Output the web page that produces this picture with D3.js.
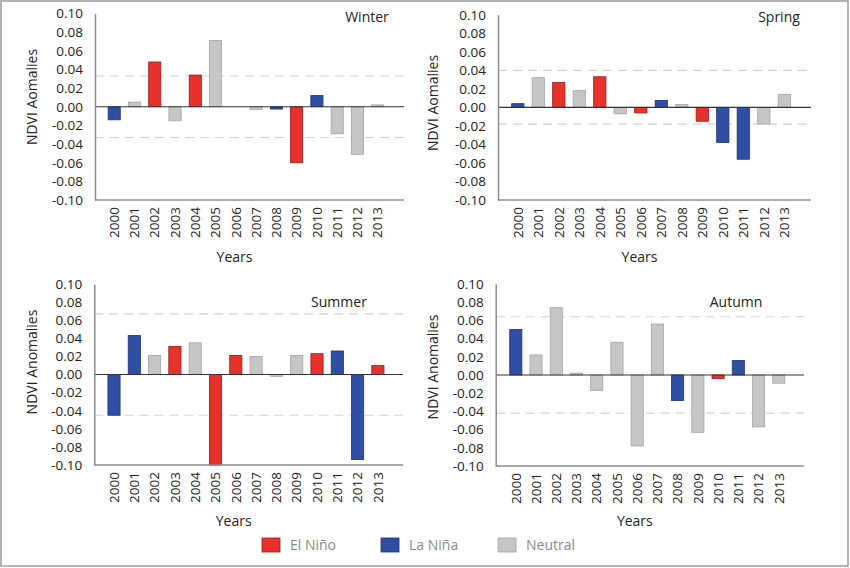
<!DOCTYPE html>
<html lang="en">
<head>
<meta charset="UTF-8">
<title>NDVI anomalies</title>
<script src="https://cdn.jsdelivr.net/npm/d3@7"></script>
<style>
  body { margin: 0; background: #fff; }
  text { font-family: "Open Sans", "Noto Sans", sans-serif; }
</style>
</head>
<body>
<script>
// data
var years = ["2000","2001","2002","2003","2004","2005","2006","2007","2008","2009","2010","2011","2012","2013"];
var winter = [-0.014, 0.005, 0.048, -0.015, 0.034, 0.071, 0.000, -0.003, -0.0025, -0.060, 0.012, -0.029, -0.051, 0.002];
var spring = [0.004, 0.032, 0.027, 0.018, 0.033, -0.007, -0.006, 0.0075, 0.003, -0.015, -0.038, -0.056, -0.018, 0.014];
var summer = [-0.045, 0.043, 0.021, 0.031, 0.035, -0.100, 0.021, 0.020, -0.002, 0.021, 0.023, 0.026, -0.094, 0.010];
var autumn = [0.050, 0.022, 0.074, 0.002, -0.017, 0.036, -0.078, 0.056, -0.028, -0.063, -0.004, 0.016, -0.057, -0.009];
// E = El Nino, L = La Nina, N = Neutral
var winterPhase = ["L","N","E","N","E","N","N","N","L","E","L","N","N","N"];
var springPhase = ["L","N","E","N","E","N","E","L","N","E","L","L","N","N"];
var summerPhase = ["L","L","N","E","N","E","E","N","N","N","E","L","L","E"];
var autumnPhase = ["L","N","N","N","N","N","N","N","L","N","E","L","N","N"];
// dashed reference lines
var winterRef = [0.033, -0.033];
var springRef = [0.040, -0.018];
var summerRef = [0.067, -0.045];
var autumnRef = [0.064, -0.042];
var yTicks = [0.10, 0.08, 0.06, 0.04, 0.02, 0.00, -0.02, -0.04, -0.06, -0.08, -0.10];

var legendNames = ["El Niño", "La Niña", "Neutral"];
var fill = {E: "#e8312b", L: "#2f4ea4", N: "#c6c6c6"};
var stroke = {E: "#8e1f1c", L: "#1f3478", N: "#a3a3a3"};

var W = 850, H = 568;
var svg = d3.select("body").append("svg").attr("width", W).attr("height", H);

svg.append("rect").attr("x", 1).attr("y", 1).attr("width", 847).attr("height", 565)
   .attr("fill", "none").attr("stroke", "#9a9a9a").attr("stroke-width", 1.5);

var fmt = function(d){ return d3.format(".2f")(d).replace("\u2212", "-"); };

var panels = [
  {title: "Winter", vals: winter, phase: winterPhase, ref: winterRef, ylab: "NDVI Aomalies",
   ax0: 95, ax1: 404, c0: 114.2, step: 20.27, yb: 200, yt: 13.5, tx: 367, ty: 22, lx: 32, ly: 97, yearsY: 262},
  {title: "Spring", vals: spring, phase: springPhase, ref: springRef, ylab: "NDVI Aomalies",
   ax0: 498, ax1: 811, c0: 517.8, step: 20.5, yb: 200, yt: 14.7, tx: 779, ty: 22, lx: 433, ly: 103, yearsY: 262},
  {title: "Summer", vals: summer, phase: summerPhase, ref: summerRef, ylab: "NDVI Anomalies",
   ax0: 94.3, ax1: 403, c0: 114, step: 20.3, yb: 465, yt: 284, tx: 339, ty: 307, lx: 32, ly: 362, yearsY: 526},
  {title: "Autumn", vals: autumn, phase: autumnPhase, ref: autumnRef, ylab: "NDVI Anomalies",
   ax0: 495.7, ax1: 804, c0: 515.8, step: 20.23, yb: 466, yt: 284, tx: 736, ty: 307, lx: 433, ly: 367, yearsY: 526}
];

panels.forEach(function(p){
  var g = svg.append("g");
  var x = d3.scaleBand().domain(years)
            .range([p.c0 - p.step/2, p.c0 - p.step/2 + years.length*p.step])
            .paddingInner(0.4).paddingOuter(0.2);
  var y = d3.scaleLinear().domain([-0.1, 0.1]).range([p.yb, p.yt]);

  // dashed lines
  g.selectAll(".ref").data(p.ref).enter().append("line")
   .attr("x1", p.ax0).attr("x2", p.ax1)
   .attr("y1", function(d){ return y(d); }).attr("y2", function(d){ return y(d); })
   .attr("stroke", "#d2d2d2").attr("stroke-width", 1.2).attr("stroke-dasharray", "9,6");

  var data = years.map(function(yr, i){ return {yr: yr, v: p.vals[i], ph: p.phase[i]}; });
  g.selectAll(".bar").data(data.filter(function(d){ return d.v !== 0; })).enter().append("rect")
   .attr("x", function(d){ return x(d.yr); })
   .attr("width", x.bandwidth())
   .attr("y", function(d){ return y(Math.max(0, d.v)); })
   .attr("height", function(d){ return Math.abs(y(d.v) - y(0)); })
   .attr("fill", function(d){ return fill[d.ph]; })
   .attr("stroke", function(d){ return stroke[d.ph]; })
   .attr("stroke-width", 0.8);

  // zero line
  g.append("line").attr("x1", p.ax0).attr("x2", p.ax1)
   .attr("y1", y(0)).attr("y2", y(0)).attr("stroke", "#333").attr("stroke-width", 1.2);

  // y axis
  var ya = g.append("g").attr("transform", "translate(" + p.ax0 + ",0)")
            .call(d3.axisLeft(y).tickValues(yTicks).tickFormat(fmt).tickSize(0).tickPadding(12));
  ya.select(".domain").attr("stroke", "#8c8c8c").attr("stroke-width", 1.5);
  ya.selectAll("text").attr("font-size", 13.5).attr("fill", "#222")
    .style("font-family", "'Open Sans', sans-serif");

  // bottom axis line
  g.append("line").attr("x1", p.ax0).attr("x2", p.ax1)
   .attr("y1", p.yb).attr("y2", p.yb).attr("stroke", "#8c8c8c").attr("stroke-width", 1.5);

  // year labels
  var xa = g.append("g").attr("transform", "translate(0," + p.yb + ")")
            .call(d3.axisBottom(x).tickSize(0).tickPadding(0));
  xa.select(".domain").remove();
  xa.selectAll("text")
    .attr("transform", "rotate(-90)")
    .attr("x", -7).attr("y", 0).attr("dy", "0.35em")
    .attr("text-anchor", "end")
    .attr("font-size", 13.5).attr("fill", "#222")
    .style("font-family", "'Open Sans', sans-serif");

  g.append("text").attr("x", p.tx).attr("y", p.ty).attr("text-anchor", "middle")
   .attr("font-size", 14).attr("fill", "#222").text(p.title);

  g.append("text").attr("transform", "translate(" + p.lx + "," + p.ly + ") rotate(-90)")
   .attr("text-anchor", "middle").attr("dy", "0.35em")
   .attr("font-size", 14).attr("fill", "#222").text(p.ylab);

  g.append("text").attr("x", (p.ax0 + p.ax1) / 2 - 15).attr("y", p.yearsY)
   .attr("text-anchor", "middle").attr("font-size", 14).attr("fill", "#222").text("Years");
});

// legend
var legX = [262, 381, 498];
var legKeys = ["E", "L", "N"];
var lg = svg.append("g");
legKeys.forEach(function(k, i){
  lg.append("rect").attr("x", legX[i]).attr("y", 538).attr("width", 18).attr("height", 14)
    .attr("fill", fill[k]).attr("stroke", stroke[k]).attr("stroke-width", 0.8);
  lg.append("text").attr("x", legX[i] + 28).attr("y", 545).attr("dy", "0.35em")
    .attr("font-size", 14).attr("fill", "#8a8a8a").text(legendNames[i]);
});
</script>
</body>
</html>
